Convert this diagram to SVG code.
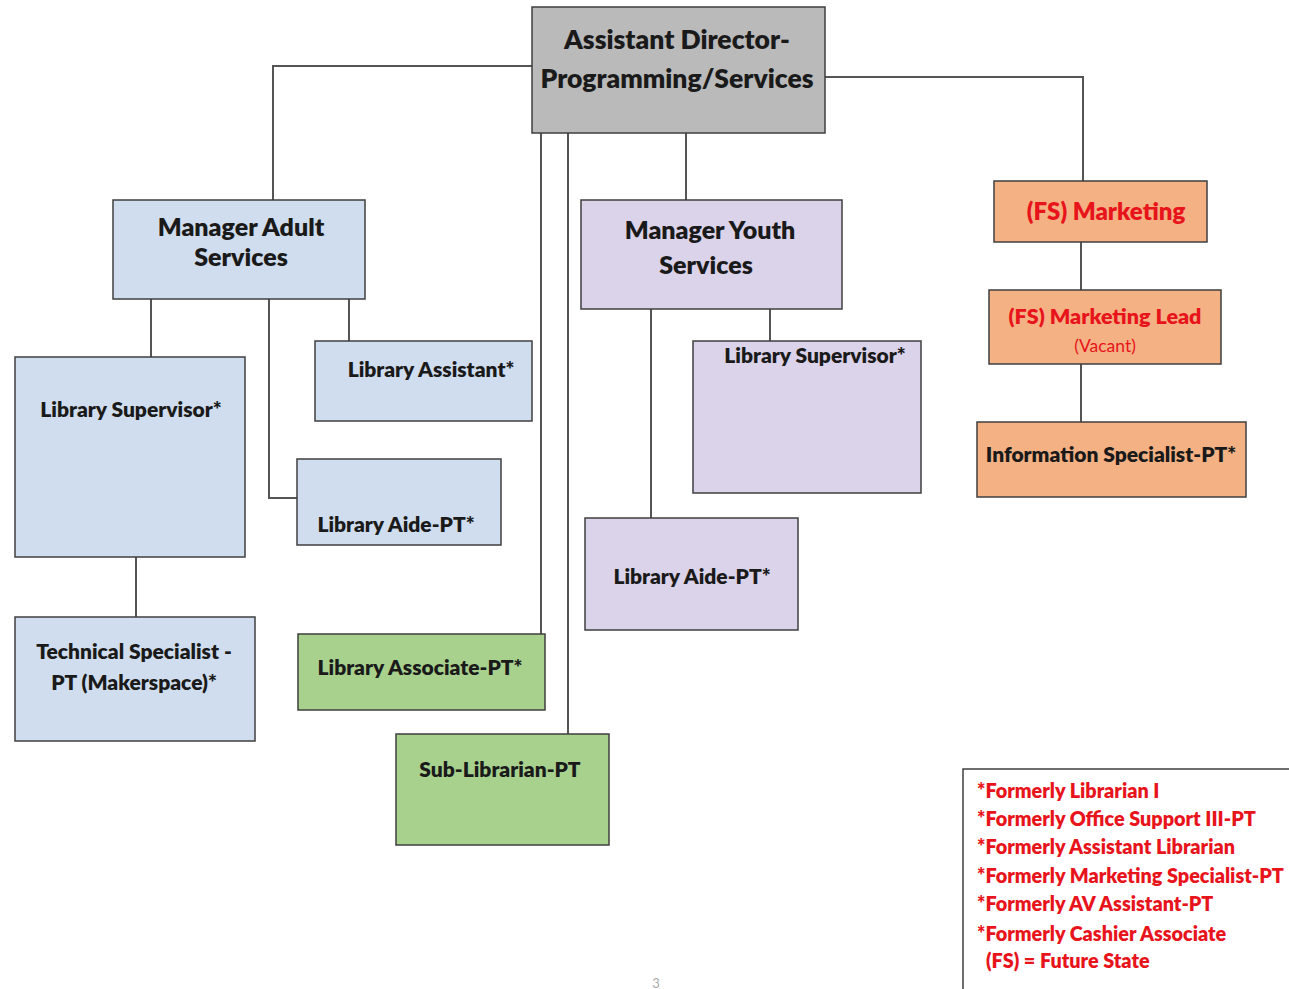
<svg xmlns="http://www.w3.org/2000/svg" width="1289" height="989" viewBox="0 0 1289 989">
  <style>
    .box { stroke: #3f3f3f; stroke-width: 1.5; }
    .gray { fill: #bababa; }
    .blue { fill: #d0ddee; }
    .green { fill: #a9d18e; }
    .lav { fill: #dad3ea; }
    .orange { fill: #f4b183; }
    .t { font-family: Lato, "Open Sans", "Liberation Sans", sans-serif; font-weight: 800; fill: #1a1a1a; text-anchor: middle; dominant-baseline: central; }
    .red { fill: #e8141c; }
    .plain { font-weight: normal; }
    .lg { font-family: Lato, "Open Sans", "Liberation Sans", sans-serif; font-weight: 800; fill: #e8141c; font-size: 19.8px; dominant-baseline: central; }
    .conn { fill: none; stroke: #555; stroke-width: 2; }
  </style>
  <rect width="1289" height="989" fill="#ffffff"/>

  <!-- reporting lines -->
  <g id="connectors">
    <polyline class="conn" points="532,66 273,66 273,200"/>
    <polyline class="conn" points="825,77 1083,77 1083,181"/>
    <line class="conn" x1="686" y1="133" x2="686" y2="200"/>
    <line class="conn" x1="541" y1="133" x2="541" y2="634"/>
    <line class="conn" x1="568" y1="133" x2="568" y2="734"/>
    <line class="conn" x1="151" y1="299" x2="151" y2="357"/>
    <line class="conn" x1="136" y1="557" x2="136" y2="617"/>
    <line class="conn" x1="349" y1="299" x2="349" y2="341"/>
    <polyline class="conn" points="269,299 269,498 297,498"/>
    <line class="conn" x1="770" y1="309" x2="770" y2="341"/>
    <line class="conn" x1="651" y1="309" x2="651" y2="518"/>
    <line class="conn" x1="1081" y1="242" x2="1081" y2="290"/>
    <line class="conn" x1="1081" y1="364" x2="1081" y2="422"/>
  </g>

  <g id="assistant-director">
    <rect class="box gray" x="532" y="7" width="293" height="126"/>
    <text class="t" x="677" y="39" font-size="26.5">Assistant Director-</text>
    <text class="t" x="677" y="78" font-size="26.5">Programming/Services</text>
  </g>

  <g id="manager-adult">
    <rect class="box blue" x="113" y="200" width="252" height="99"/>
    <text class="t" x="241" y="226" font-size="25">Manager Adult</text>
    <text class="t" x="241" y="256" font-size="25">Services</text>
  </g>

  <g id="adult-library-supervisor">
    <rect class="box blue" x="15" y="357" width="230" height="200"/>
    <text class="t" x="131" y="408" font-size="21">Library Supervisor*</text>
  </g>

  <g id="technical-specialist">
    <rect class="box blue" x="15" y="617" width="240" height="124"/>
    <text class="t" x="134" y="650" font-size="21">Technical Specialist -</text>
    <text class="t" x="134" y="681" font-size="21">PT (Makerspace)*</text>
  </g>

  <g id="library-assistant">
    <rect class="box blue" x="315" y="341" width="217" height="80"/>
    <text class="t" x="431" y="368" font-size="21">Library Assistant*</text>
  </g>

  <g id="adult-library-aide">
    <rect class="box blue" x="297" y="459" width="204" height="86"/>
    <text class="t" x="396" y="523" font-size="21">Library Aide-PT*</text>
  </g>

  <g id="library-associate">
    <rect class="box green" x="298" y="634" width="247" height="76"/>
    <text class="t" x="420" y="666" font-size="21">Library Associate-PT*</text>
  </g>

  <g id="sub-librarian">
    <rect class="box green" x="396" y="734" width="213" height="111"/>
    <text class="t" x="500" y="768" font-size="21">Sub-Librarian-PT</text>
  </g>

  <g id="manager-youth">
    <rect class="box lav" x="581" y="200" width="261" height="109"/>
    <text class="t" x="710" y="229" font-size="25">Manager Youth</text>
    <text class="t" x="706" y="264" font-size="25">Services</text>
  </g>

  <g id="youth-library-supervisor">
    <rect class="box lav" x="693" y="341" width="228" height="152"/>
    <text class="t" x="815" y="354" font-size="21">Library Supervisor*</text>
  </g>

  <g id="youth-library-aide">
    <rect class="box lav" x="585" y="518" width="213" height="112"/>
    <text class="t" x="692" y="575" font-size="21">Library Aide-PT*</text>
  </g>

  <g id="fs-marketing">
    <rect class="box orange" x="994" y="181" width="213" height="61"/>
    <text class="t red" x="1106" y="210" font-size="24">(FS) Marketing</text>
  </g>

  <g id="fs-marketing-lead">
    <rect class="box orange" x="989" y="290" width="232" height="74"/>
    <text class="t red" x="1105" y="316" font-size="21.5">(FS) Marketing Lead</text>
    <text class="t red plain" x="1105" y="345" font-size="17.5">(Vacant)</text>
  </g>

  <g id="information-specialist">
    <rect class="box orange" x="977" y="422" width="269" height="75"/>
    <text class="t" x="1111" y="453" font-size="21">Information Specialist-PT*</text>
  </g>

  <g id="legend">
    <polyline fill="none" stroke="#3f3f3f" stroke-width="1.5" points="963,992 963,769 1292,769"/>
    <text class="lg" x="977" y="790">*Formerly Librarian I</text>
    <text class="lg" x="977" y="818">*Formerly Office Support III-PT</text>
    <text class="lg" x="977" y="846">*Formerly Assistant Librarian</text>
    <text class="lg" x="977" y="875">*Formerly Marketing Specialist-PT</text>
    <text class="lg" x="977" y="903">*Formerly AV Assistant-PT</text>
    <text class="lg" x="977" y="933">*Formerly Cashier Associate</text>
    <text class="lg" x="986" y="960">(FS) = Future State</text>
  </g>

  <text x="656" y="988" font-family="Lato, 'Liberation Sans', sans-serif" font-size="13" fill="#aaaaaa" text-anchor="middle">3</text>
</svg>
